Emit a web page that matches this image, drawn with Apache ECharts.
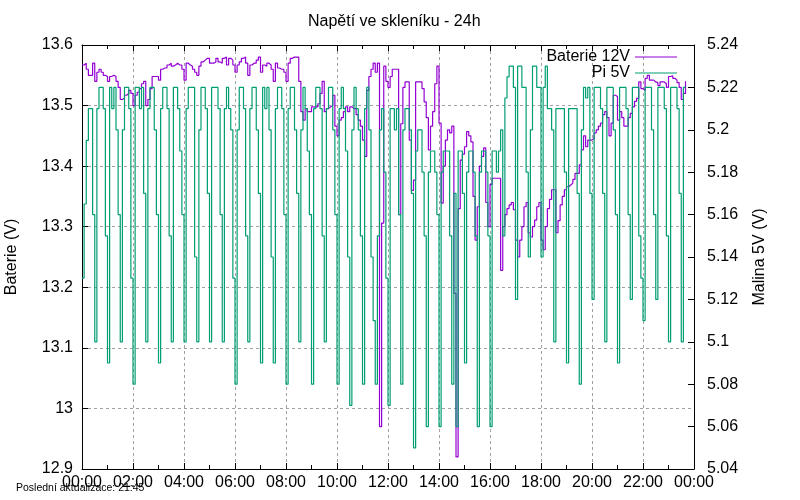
<!DOCTYPE html>
<html style="height: 100%">
<head>
<meta charset="utf-8">
<script type="text/javascript" src="https://cdn.jsdelivr.net/npm/echarts@6/dist/echarts.min.js"></script>
</head>
<body style="height: 100%; margin: 0; background: #ffffff">
<div id="container" style="width: 800px; height: 500px"></div>
<script type="text/javascript">
var TITLE = 'Napětí ve skleníku - 24h';
var FOOTER = 'Poslední aktualizace: 21:45';
var NAMES = ['Baterie 12V', 'Pi 5V'];
var SAMPLE_MIN = 5;   // one reading every 5 minutes, from 00:00

// Baterie 12V (left axis), one row = one hour
var BATERIE = [
    13.567, 13.57, 13.56, 13.55, 13.55, 13.57, 13.54, 13.555, 13.56, 13.555, 13.55, 13.548,
    13.54, 13.548, 13.55, 13.548, 13.54, 13.53, 13.51, 13.512, 13.517, 13.52, 13.525, 13.52,
    13.50, 13.517, 13.522, 13.528, 13.536, 13.54, 13.50, 13.51, 13.528, 13.548, 13.548, 13.548,
    13.542, 13.56, 13.562, 13.562, 13.567, 13.57, 13.565, 13.567, 13.57, 13.567, 13.567, 13.56,
    13.542, 13.57, 13.567, 13.565, 13.56, 13.555, 13.55, 13.565, 13.572, 13.575, 13.578, 13.578,
    13.57, 13.57, 13.572, 13.578, 13.572, 13.57, 13.578, 13.58, 13.567, 13.578, 13.575, 13.567,
    13.555, 13.567, 13.572, 13.578, 13.58, 13.57, 13.55, 13.567, 13.57, 13.57, 13.575, 13.58,
    13.555, 13.567, 13.565, 13.57, 13.567, 13.56, 13.54, 13.57, 13.562, 13.56, 13.56, 13.555,
    13.54, 13.57, 13.578, 13.58, 13.58, 13.58, 13.54, 13.49, 13.476, 13.495, 13.49, 13.49,
    13.498, 13.498, 13.498, 13.503, 13.52, 13.54, 13.49, 13.495, 13.498, 13.50, 13.517, 13.466,
    13.45, 13.476, 13.48, 13.49, 13.498, 13.49, 13.498, 13.495, 13.495, 13.485, 13.476, 13.466,
    13.443, 13.416, 13.525, 13.548, 13.56, 13.57, 13.555, 13.57, 12.97, 13.306, 13.565, 13.54,
    13.53, 13.548, 13.56, 13.56, 13.56, 13.32, 13.47, 13.53, 13.539, 13.539, 13.443, 13.36,
    13.377, 13.539, 13.539, 13.539, 13.528, 13.506, 13.48, 13.427, 13.466, 13.49, 13.536, 13.565,
    13.471, 13.339, 13.40, 13.443, 13.46, 13.455, 13.466, 13.19, 12.92, 13.33, 13.41, 13.42,
    13.432, 13.457, 13.45, 13.44, 13.35, 13.278, 13.333, 13.40, 13.416, 13.43, 13.34, 13.30,
    13.37, 13.38, 13.38, 13.38, 13.38, 13.228, 13.30, 13.32, 13.33, 13.336, 13.34, 13.328,
    13.278, 13.25, 13.278, 13.30, 13.333, 13.34, 13.29, 13.283, 13.30, 13.311, 13.333, 13.34,
    13.278, 13.262, 13.30, 13.33, 13.345, 13.361, 13.361, 13.29, 13.31, 13.336, 13.35, 13.361,
    13.366, 13.369, 13.372, 13.378, 13.388, 13.388, 13.402, 13.427, 13.45, 13.432, 13.443, 13.443,
    13.446, 13.455, 13.46, 13.466, 13.471, 13.485, 13.49, 13.48, 13.45, 13.471, 13.517, 13.515,
    13.476, 13.49, 13.48, 13.466, 13.466, 13.48, 13.487, 13.498, 13.507, 13.512, 13.539, 13.528,
    13.525, 13.545, 13.55, 13.542, 13.542, 13.539, 13.538, 13.533, 13.539, 13.539, 13.536, 13.53,
    13.548, 13.549, 13.545, 13.542, 13.538, 13.53, 13.51, 13.52, 13.54
];

// Pi 5V (right axis)
var PI5V = [
    5.13, 5.165, 5.195, 5.21, 5.21, 5.16, 5.10, 5.21, 5.22, 5.22, 5.21, 5.15,
    5.09, 5.22, 5.21, 5.22, 5.20, 5.16, 5.10, 5.20, 5.22, 5.22, 5.21, 5.13,
    5.08, 5.22, 5.22, 5.21, 5.22, 5.17, 5.10, 5.21, 5.22, 5.22, 5.20, 5.16,
    5.09, 5.21, 5.22, 5.22, 5.21, 5.15, 5.10, 5.22, 5.22, 5.21, 5.19, 5.16,
    5.10, 5.21, 5.22, 5.22, 5.22, 5.14, 5.10, 5.20, 5.22, 5.22, 5.21, 5.17,
    5.10, 5.22, 5.22, 5.22, 5.21, 5.16, 5.10, 5.21, 5.22, 5.21, 5.20, 5.13,
    5.08, 5.20, 5.22, 5.22, 5.21, 5.15, 5.10, 5.21, 5.22, 5.22, 5.20, 5.17,
    5.09, 5.22, 5.21, 5.22, 5.20, 5.14, 5.09, 5.21, 5.22, 5.22, 5.21, 5.16,
    5.08, 5.21, 5.22, 5.22, 5.20, 5.17, 5.10, 5.20, 5.22, 5.21, 5.19, 5.16,
    5.08, 5.21, 5.22, 5.22, 5.21, 5.15, 5.10, 5.21, 5.22, 5.22, 5.20, 5.16,
    5.08, 5.21, 5.22, 5.21, 5.19, 5.14, 5.07, 5.20, 5.22, 5.21, 5.20, 5.15,
    5.08, 5.21, 5.22, 5.20, 5.14, 5.11, 5.08, 5.15, 5.20, 5.21, 5.18, 5.13,
    5.07, 5.21, 5.21, 5.20, 5.21, 5.16, 5.08, 5.20, 5.21, 5.21, 5.20, 5.17,
    5.05, 5.19, 5.20, 5.20, 5.18, 5.15, 5.06, 5.18, 5.19, 5.19, 5.18, 5.16,
    5.06, 5.18, 5.19, 5.19, 5.19, 5.15, 5.08, 5.17, 5.06, 5.19, 5.19, 5.17,
    5.09, 5.18, 5.19, 5.19, 5.18, 5.15, 5.06, 5.18, 5.19, 5.19, 5.18, 5.15,
    5.06, 5.19, 5.19, 5.18, 5.19, 5.20, 5.15, 5.215, 5.225, 5.23, 5.23, 5.22,
    5.12, 5.23, 5.23, 5.22, 5.22, 5.18, 5.14, 5.20, 5.23, 5.23, 5.22, 5.22,
    5.14, 5.22, 5.23, 5.21, 5.21, 5.20, 5.10, 5.21, 5.21, 5.21, 5.21, 5.18,
    5.09, 5.21, 5.21, 5.21, 5.21, 5.17, 5.08, 5.20, 5.22, 5.215, 5.22, 5.17,
    5.12, 5.22, 5.22, 5.22, 5.21, 5.17, 5.10, 5.22, 5.22, 5.22, 5.20, 5.16,
    5.09, 5.22, 5.22, 5.22, 5.21, 5.16, 5.12, 5.22, 5.22, 5.22, 5.15, 5.13,
    5.11, 5.22, 5.22, 5.22, 5.20, 5.16, 5.12, 5.22, 5.22, 5.22, 5.21, 5.15,
    5.10, 5.22, 5.22, 5.22, 5.21, 5.17, 5.10, 5.22, 5.22
];

var FONT = 'Liberation Sans';

function toPoints(vals)
{
    var pts = [];
    for (var i = 0; i < vals.length; i++) {
        pts.push([i * SAMPLE_MIN / 60, vals[i]]);
    }
    return pts;
}

function hourLabel(v)
{
    var h = Math.round(v) % 24;
    return (h < 10 ? '0' : '') + h + ':00';
}

var black = {color: '#000000', width: 1};
var labelStyle = {color: '#000000', fontSize: 16, fontFamily: FONT};

var option = {
    animation: false,
    backgroundColor: '#ffffff',
    textStyle: {fontFamily: FONT},
    grid: {left: 82, right: 106, top: 45, bottom: 31, outerBoundsMode: 'none', containLabel: false},
    graphic: [
        {type: 'text', left: 388 - 80, top: 14,
         style: {text: TITLE, fill: '#000', font: '16px "Liberation Sans"', width: 160, align: 'center'}},
        {type: 'text', left: 16, top: 483,
         style: {text: FOOTER, fill: '#000', font: '10.5px "Liberation Sans"'}}
    ],
    legend: {
        data: NAMES,
        orient: 'vertical',
        align: 'right',
        right: 123,
        top: 49,
        padding: 0,
        icon: 'rect',
        itemWidth: 42,
        itemHeight: 1.2,
        itemGap: 0,
        textStyle: {color: '#000000', fontSize: 16, fontFamily: FONT, lineHeight: 16}
    },
    xAxis: [{
        type: 'value', min: 0, max: 24, interval: 2, position: 'bottom',
        axisLine: {show: true, onZero: false, lineStyle: black},
        axisTick: {show: true, inside: true, length: 6, lineStyle: black},
        minorTick: {show: true, splitNumber: 2, length: 4, lineStyle: black},
        axisLabel: Object.assign({formatter: hourLabel, margin: 6}, labelStyle),
        splitLine: {show: true, lineStyle: {color: '#a0a0a0', width: 1, type: [3, 3]}}
    }, {
        type: 'value', min: 0, max: 24, interval: 2, position: 'top',
        axisLine: {show: true, onZero: false, lineStyle: black},
        axisTick: {show: true, inside: true, length: 6, lineStyle: black},
        minorTick: {show: true, splitNumber: 2, length: 4, lineStyle: black},
        axisLabel: {show: false},
        splitLine: {show: false}
    }],
    yAxis: [{
        type: 'value', min: 12.9, max: 13.6, interval: 0.1, position: 'left',
        name: 'Baterie (V)', nameLocation: 'middle', nameGap: 62,
        nameTextStyle: labelStyle,
        axisLine: {show: true, onZero: false, lineStyle: black},
        axisTick: {show: true, inside: true, length: 6, lineStyle: black},
        axisLabel: Object.assign({margin: 9}, labelStyle),
        splitLine: {show: true, lineStyle: {color: '#a0a0a0', width: 1, type: [3, 3]}}
    }, {
        type: 'value', min: 5.04, max: 5.24, interval: 0.02, position: 'right',
        name: 'Malina 5V (V)', nameLocation: 'middle', nameGap: 58,
        nameTextStyle: labelStyle,
        axisLine: {show: true, onZero: false, lineStyle: black},
        axisTick: {show: true, inside: true, length: 6, lineStyle: black},
        axisLabel: Object.assign({margin: 13}, labelStyle),
        splitLine: {show: false}
    }],
    series: [{
        name: NAMES[0],
        type: 'line',
        step: 'end',
        symbol: 'none',
        yAxisIndex: 0,
        color: '#9400d3',
        lineStyle: {color: '#9400d3', width: 1.2},
        data: toPoints(BATERIE)
    }, {
        name: NAMES[1],
        type: 'line',
        step: 'end',
        symbol: 'none',
        yAxisIndex: 1,
        color: '#009e73',
        lineStyle: {color: '#009e73', width: 1.2},
        data: toPoints(PI5V)
    }]
};

var myChart = echarts.init(document.getElementById('container'));
myChart.setOption(option);
</script>
</body>
</html>
